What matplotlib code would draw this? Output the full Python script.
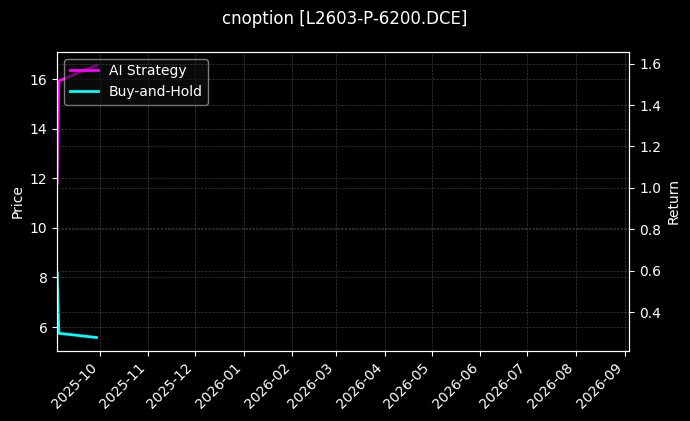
import matplotlib
matplotlib.use("Agg")
import matplotlib.pyplot as plt
import matplotlib.dates as mdates
import numpy as np
import pandas as pd

title = "cnoption [L2603-P-6200.DCE]"
dates = pd.to_datetime(["2025-09-04", "2025-09-05", "2025-09-29"])
ai_strategy = [11.8, 15.92, 16.55]
buy_hold = [8.16, 5.75, 5.58]
x_start = pd.Timestamp("2025-09-04")
x_end = pd.Timestamp("2026-09-04")
return_lim = (0.212, 1.657)

plt.style.use("dark_background")
fig, ax1 = plt.subplots(figsize=(6.9, 4.21), dpi=100)
fig.patch.set_facecolor("#000000")
ax1.set_facecolor("#000000")

ax1.plot(dates, ai_strategy, color="#ff00ff", lw=2, label="AI Strategy")
ax1.plot(dates, buy_hold, color="#00ffff", lw=2, label="Buy-and-Hold")
ax1.set_ylabel("Price")
ax1.set_xlim(x_start, x_end)
ax1.grid(True, color="#555555", linestyle="--", linewidth=0.5, alpha=0.7)

ax2 = ax1.twinx()
ax2.set_ylim(*return_lim)
ax2.set_ylabel("Return")
ax2.grid(True, color="#555555", linestyle="--", linewidth=0.5, alpha=0.7)

ax1.xaxis.set_major_locator(mdates.MonthLocator())
ax1.xaxis.set_major_formatter(mdates.DateFormatter("%Y-%m"))
plt.setp(ax1.get_xticklabels(), rotation=45, ha="right")

leg = ax1.legend(loc="upper left", facecolor="#111111", edgecolor="#cccccc", framealpha=0.6)

fig.suptitle(title, fontsize=12, y=0.977)
fig.subplots_adjust(left=0.083, right=0.912, top=0.877, bottom=0.166)
fig.savefig("out.png", dpi=100, facecolor=fig.get_facecolor())
